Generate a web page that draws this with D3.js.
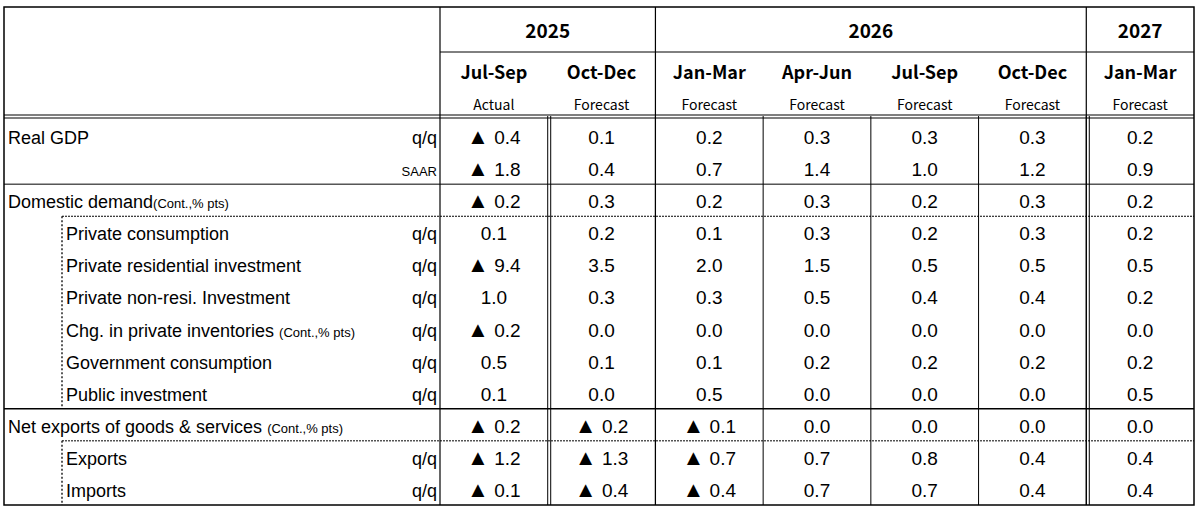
<!DOCTYPE html><html><head><meta charset="utf-8"><script src="https://cdn.jsdelivr.net/npm/d3@7"></script>
<style>body{margin:0;background:#fff}</style></head><body><svg id="c" width="1200" height="508"></svg>
<script>
const years=[{y:"2025",n:2},{y:"2026",n:4},{y:"2027",n:1}];
const quarters=["Jul-Sep","Oct-Dec","Jan-Mar","Apr-Jun","Jul-Sep","Oct-Dec","Jan-Mar"];
const status=["Actual","Forecast","Forecast","Forecast","Forecast","Forecast","Forecast"];
const rowLabels=["Real GDP","","Domestic demand","Private consumption","Private residential investment","Private non-resi. Investment","Chg. in private inventories","Government consumption","Public investment","Net exports of goods & services","Exports","Imports"];
const rowNotes=["","","(Cont.,% pts)","","","","(Cont.,% pts)","","","(Cont.,% pts)","",""];
const rowUnits=["q/q","SAAR","","q/q","q/q","q/q","q/q","q/q","q/q","","q/q","q/q"];
const rowIndent=[0,0,0,1,1,1,1,1,1,0,1,1];
const values=[
[-0.4,0.1,0.2,0.3,0.3,0.3,0.2],
[-1.8,0.4,0.7,1.4,1.0,1.2,0.9],
[-0.2,0.3,0.2,0.3,0.2,0.3,0.2],
[0.1,0.2,0.1,0.3,0.2,0.3,0.2],
[-9.4,3.5,2.0,1.5,0.5,0.5,0.5],
[1.0,0.3,0.3,0.5,0.4,0.4,0.2],
[-0.2,0.0,0.0,0.0,0.0,0.0,0.0],
[0.5,0.1,0.1,0.2,0.2,0.2,0.2],
[0.1,0.0,0.5,0.0,0.0,0.0,0.5],
[-0.2,-0.2,-0.1,0.0,0.0,0.0,0.0],
[-1.2,-1.3,-0.7,0.7,0.8,0.4,0.4],
[-0.1,-0.4,-0.4,0.7,0.7,0.4,0.4]];
const svg=d3.select("#c");
const L=4,R=1194,T=7,B=505,X0=440,HB=116;
const x=d3.scaleBand().domain(d3.range(7)).range([X0,R]);
const y=d3.scaleBand().domain(d3.range(12)).range([HB+4,B]);
const ln=(x1,y1,x2,y2,w=1,dash=null)=>svg.append("line").attr("x1",x1).attr("y1",y1).attr("x2",x2).attr("y2",y2).attr("stroke","#000").attr("stroke-width",w).attr("stroke-dasharray",dash);
const fh="'Noto Sans CJK JP',sans-serif", fb="'Liberation Sans',Arial,sans-serif";
let c=0;
years.forEach(g=>{const x1=x(c),x2=x(c+g.n-1)+x.bandwidth();
 svg.append("text").attr("x",(x1+x2)/2).attr("y",38).attr("text-anchor","middle").attr("font-family",fh).attr("font-weight","bold").attr("font-size",19).text(g.y);
 ln(x1,52,x2,52);ln(x1,T,x1,B,1.2);c+=g.n;});
quarters.forEach((q,i)=>{const cx=x(i)+x.bandwidth()/2;
 svg.append("text").attr("x",cx).attr("y",79).attr("text-anchor","middle").attr("font-family",fh).attr("font-weight","bold").attr("font-size",18).text(q);
 svg.append("text").attr("x",cx).attr("y",110).attr("text-anchor","middle").attr("font-family",fh).attr("font-size",14).text(status[i]);
 if(i>0) ln(x(i),HB,x(i),B);});
ln(x(1)+3,HB,x(1)+3,B);ln(x(6)+3,HB,x(6)+3,B);
svg.append("rect").attr("x",L).attr("y",T).attr("width",R-L).attr("height",B-T).attr("fill","none").attr("stroke","#000").attr("stroke-width",1.5);
ln(L,HB-1,R,HB-1);ln(L,HB+2,R,HB+2);
const sep=(i)=>y(i);
ln(L,sep(2),R,sep(2));
ln(62,sep(3),R,sep(3),1,"2,1");
ln(L,sep(9),R,sep(9),1.6);
ln(62,sep(10),R,sep(10),1,"2,1");
ln(62,sep(3),62,sep(9),1.3,"2,2");
ln(62,sep(10),62,B,1.3,"2,2");
rowLabels.forEach((lab,i)=>{const cy=y(i)+y.bandwidth()/2+8;
 const t=svg.append("text").attr("x",rowIndent[i]?66:8).attr("y",cy).attr("font-family",fb).attr("font-size",18);
 t.append("tspan").text(lab);
 if(rowNotes[i]) t.append("tspan").attr("font-size",13).attr("dx",rowIndent[i]||i==9?5:0).text(rowNotes[i]);
 if(rowUnits[i]) svg.append("text").attr("x",X0-3).attr("y",cy).attr("text-anchor","end").attr("font-family",fb).attr("font-size",rowUnits[i]=="SAAR"?13:18).text(rowUnits[i]);
 values[i].forEach((v,j)=>{const t2=svg.append("text").attr("x",x(j)+x.bandwidth()/2).attr("y",cy).attr("text-anchor","middle").attr("font-family",fb).attr("font-size",19);
  if(v<0){t2.append("tspan").attr("font-size",22).text("▲");t2.append("tspan").text(" "+Math.abs(v).toFixed(1));}
  else t2.text(v.toFixed(1));});
});
</script></body></html>
